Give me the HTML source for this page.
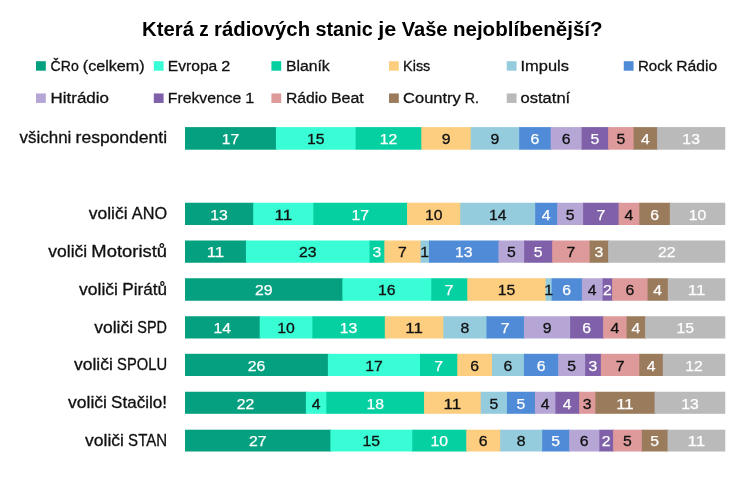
<!DOCTYPE html>
<html lang="cs"><head><meta charset="utf-8"><title>Která z rádiových stanic je Vaše nejoblíbenější?</title>
<style>html,body{margin:0;padding:0;background:#fff}body{width:744px;height:481px;overflow:hidden}svg{display:block}text{font-family:"Liberation Sans",sans-serif}.d{fill:#111;stroke:#111;stroke-width:.3px}.w{fill:#fff;stroke:#fff;stroke-width:.25px}</style></head><body>
<svg width="744" height="481" viewBox="0 0 744 481">
<rect width="744" height="481" fill="#fff"/>
<text y="35.55" font-size="20.7" font-weight="bold" fill="#000"><tspan x="142.00" textLength="51.92" lengthAdjust="spacingAndGlyphs">Která</tspan> <tspan x="199.30" textLength="9.44" lengthAdjust="spacingAndGlyphs">z</tspan> <tspan x="214.11" textLength="95.97" lengthAdjust="spacingAndGlyphs">rádiových</tspan> <tspan x="315.45" textLength="57.44" lengthAdjust="spacingAndGlyphs">stanic</tspan> <tspan x="378.27" textLength="18.02" lengthAdjust="spacingAndGlyphs">je</tspan> <tspan x="401.66" textLength="45.88" lengthAdjust="spacingAndGlyphs">Vaše</tspan> <tspan x="452.91" textLength="149.70" lengthAdjust="spacingAndGlyphs">nejoblíbenější?</tspan></text>
<rect x="36" y="61.20" width="9.8" height="9.5" fill="#05A07F"/>
<text y="70.70" font-size="15.45" class="d"><tspan x="50.60" textLength="28.17" lengthAdjust="spacingAndGlyphs">ČRo</tspan> <tspan x="82.79" textLength="61.84" lengthAdjust="spacingAndGlyphs">(celkem)</tspan></text>
<rect x="153.8" y="61.20" width="9.8" height="9.5" fill="#38FDD5"/>
<text y="70.70" font-size="15.45" class="d"><tspan x="167.80" textLength="49.48" lengthAdjust="spacingAndGlyphs">Evropa</tspan> <tspan x="221.30" textLength="9.02" lengthAdjust="spacingAndGlyphs">2</tspan></text>
<rect x="271.4" y="61.20" width="9.8" height="9.5" fill="#04D0A2"/>
<text y="70.70" font-size="15.45" class="d"><tspan x="285.90" textLength="43.81" lengthAdjust="spacingAndGlyphs">Blaník</tspan></text>
<rect x="389" y="61.20" width="9.8" height="9.5" fill="#FDCE80"/>
<text y="70.70" font-size="15.45" class="d"><tspan x="403.10" textLength="27.23" lengthAdjust="spacingAndGlyphs">Kiss</tspan></text>
<rect x="506.75" y="61.20" width="9.8" height="9.5" fill="#94CCDE"/>
<text y="70.70" font-size="15.45" class="d"><tspan x="520.55" textLength="48.42" lengthAdjust="spacingAndGlyphs">Impuls</tspan></text>
<rect x="623.75" y="61.20" width="9.8" height="9.5" fill="#4F8BD6"/>
<text y="70.70" font-size="15.45" class="d"><tspan x="637.95" textLength="34.31" lengthAdjust="spacingAndGlyphs">Rock</tspan> <tspan x="676.28" textLength="41.00" lengthAdjust="spacingAndGlyphs">Rádio</tspan></text>
<rect x="36" y="93.45" width="9.8" height="9.5" fill="#B5A6D6"/>
<text y="102.95" font-size="15.45" class="d"><tspan x="50.60" textLength="58.33" lengthAdjust="spacingAndGlyphs">Hitrádio</tspan></text>
<rect x="153.8" y="93.45" width="9.8" height="9.5" fill="#7F60A9"/>
<text y="102.95" font-size="15.45" class="d"><tspan x="167.80" textLength="73.55" lengthAdjust="spacingAndGlyphs">Frekvence</tspan> <tspan x="245.36" textLength="9.02" lengthAdjust="spacingAndGlyphs">1</tspan></text>
<rect x="271.4" y="93.45" width="9.8" height="9.5" fill="#DE9A9A"/>
<text y="102.95" font-size="15.45" class="d"><tspan x="285.90" textLength="41.00" lengthAdjust="spacingAndGlyphs">Rádio</tspan> <tspan x="330.92" textLength="32.88" lengthAdjust="spacingAndGlyphs">Beat</tspan></text>
<rect x="389" y="93.45" width="9.8" height="9.5" fill="#9A7C5D"/>
<text y="102.95" font-size="15.45" class="d"><tspan x="403.10" textLength="57.72" lengthAdjust="spacingAndGlyphs">Country</tspan> <tspan x="464.83" textLength="14.25" lengthAdjust="spacingAndGlyphs">R.</tspan></text>
<rect x="506.75" y="93.45" width="9.8" height="9.5" fill="#BABABA"/>
<text y="102.95" font-size="15.45" class="d"><tspan x="520.55" textLength="49.64" lengthAdjust="spacingAndGlyphs">ostatní</tspan></text>
<text y="143.10" font-size="16.3" class="d"><tspan x="19.61" textLength="51.73" lengthAdjust="spacingAndGlyphs">všichni</tspan> <tspan x="75.57" textLength="91.48" lengthAdjust="spacingAndGlyphs">respondenti</tspan></text>
<rect x="185.0" y="127.10" width="91.92" height="22.6" fill="#05A07F"/>
<rect x="275.92" y="127.10" width="80.67" height="22.6" fill="#38FDD5"/>
<rect x="355.59" y="127.10" width="66.69" height="22.6" fill="#04D0A2"/>
<rect x="421.28" y="127.10" width="50.46" height="22.6" fill="#FDCE80"/>
<rect x="470.74" y="127.10" width="49.45" height="22.6" fill="#94CCDE"/>
<rect x="519.19" y="127.10" width="32.47" height="22.6" fill="#4F8BD6"/>
<rect x="550.66" y="127.10" width="31.97" height="22.6" fill="#B5A6D6"/>
<rect x="581.63" y="127.10" width="27.48" height="22.6" fill="#7F60A9"/>
<rect x="608.11" y="127.10" width="26.47" height="22.6" fill="#DE9A9A"/>
<rect x="633.58" y="127.10" width="24.48" height="22.6" fill="#9A7C5D"/>
<rect x="657.06" y="127.10" width="68.19" height="22.6" fill="#BABABA"/>
<text x="230.46" y="143.97" text-anchor="middle" font-size="14.80" class="w" textLength="17.53" lengthAdjust="spacingAndGlyphs">17</text>
<text x="315.75" y="143.97" text-anchor="middle" font-size="14.80" class="d" textLength="17.53" lengthAdjust="spacingAndGlyphs">15</text>
<text x="388.43" y="143.97" text-anchor="middle" font-size="14.80" class="w" textLength="17.53" lengthAdjust="spacingAndGlyphs">12</text>
<text x="446.01" y="143.97" text-anchor="middle" font-size="14.80" class="d" textLength="8.77" lengthAdjust="spacingAndGlyphs">9</text>
<text x="494.97" y="143.97" text-anchor="middle" font-size="14.80" class="d" textLength="8.77" lengthAdjust="spacingAndGlyphs">9</text>
<text x="534.92" y="143.97" text-anchor="middle" font-size="14.80" class="w" textLength="8.77" lengthAdjust="spacingAndGlyphs">6</text>
<text x="566.14" y="143.97" text-anchor="middle" font-size="14.80" class="d" textLength="8.77" lengthAdjust="spacingAndGlyphs">6</text>
<text x="594.87" y="143.97" text-anchor="middle" font-size="14.80" class="w" textLength="8.77" lengthAdjust="spacingAndGlyphs">5</text>
<text x="620.85" y="143.97" text-anchor="middle" font-size="14.80" class="d" textLength="8.77" lengthAdjust="spacingAndGlyphs">5</text>
<text x="645.32" y="143.97" text-anchor="middle" font-size="14.80" class="w" textLength="8.77" lengthAdjust="spacingAndGlyphs">4</text>
<text x="691.15" y="143.97" text-anchor="middle" font-size="14.80" class="w" textLength="17.53" lengthAdjust="spacingAndGlyphs">13</text>
<text y="219.10" font-size="16.3" class="d"><tspan x="88.78" textLength="38.84" lengthAdjust="spacingAndGlyphs">voliči</tspan> <tspan x="131.85" textLength="35.20" lengthAdjust="spacingAndGlyphs">ANO</tspan></text>
<rect x="185.0" y="202.75" width="69.19" height="22.25" fill="#05A07F"/>
<rect x="253.19" y="202.75" width="61.19" height="22.25" fill="#38FDD5"/>
<rect x="313.38" y="202.75" width="94.66" height="22.25" fill="#04D0A2"/>
<rect x="407.04" y="202.75" width="54.21" height="22.25" fill="#FDCE80"/>
<rect x="460.25" y="202.75" width="75.93" height="22.25" fill="#94CCDE"/>
<rect x="535.18" y="202.75" width="22.98" height="22.25" fill="#4F8BD6"/>
<rect x="557.16" y="202.75" width="26.97" height="22.25" fill="#B5A6D6"/>
<rect x="583.13" y="202.75" width="36.47" height="22.25" fill="#7F60A9"/>
<rect x="618.6" y="202.75" width="21.73" height="22.25" fill="#DE9A9A"/>
<rect x="639.33" y="202.75" width="31.47" height="22.25" fill="#9A7C5D"/>
<rect x="669.8" y="202.75" width="55.45" height="22.25" fill="#BABABA"/>
<text x="219.09" y="219.59" text-anchor="middle" font-size="14.80" class="w" textLength="17.53" lengthAdjust="spacingAndGlyphs">13</text>
<text x="283.28" y="219.59" text-anchor="middle" font-size="14.80" class="d" textLength="17.53" lengthAdjust="spacingAndGlyphs">11</text>
<text x="360.21" y="219.59" text-anchor="middle" font-size="14.80" class="w" textLength="17.53" lengthAdjust="spacingAndGlyphs">17</text>
<text x="433.64" y="219.59" text-anchor="middle" font-size="14.80" class="d" textLength="17.53" lengthAdjust="spacingAndGlyphs">10</text>
<text x="497.71" y="219.59" text-anchor="middle" font-size="14.80" class="d" textLength="17.53" lengthAdjust="spacingAndGlyphs">14</text>
<text x="546.17" y="219.59" text-anchor="middle" font-size="14.80" class="w" textLength="8.77" lengthAdjust="spacingAndGlyphs">4</text>
<text x="570.14" y="219.59" text-anchor="middle" font-size="14.80" class="d" textLength="8.77" lengthAdjust="spacingAndGlyphs">5</text>
<text x="600.87" y="219.59" text-anchor="middle" font-size="14.80" class="w" textLength="8.77" lengthAdjust="spacingAndGlyphs">7</text>
<text x="628.97" y="219.59" text-anchor="middle" font-size="14.80" class="d" textLength="8.77" lengthAdjust="spacingAndGlyphs">4</text>
<text x="654.57" y="219.59" text-anchor="middle" font-size="14.80" class="w" textLength="8.77" lengthAdjust="spacingAndGlyphs">6</text>
<text x="697.52" y="219.59" text-anchor="middle" font-size="14.80" class="w" textLength="17.53" lengthAdjust="spacingAndGlyphs">10</text>
<text y="256.50" font-size="16.3" class="d"><tspan x="48.32" textLength="38.84" lengthAdjust="spacingAndGlyphs">voliči</tspan> <tspan x="91.38" textLength="75.67" lengthAdjust="spacingAndGlyphs">Motoristů</tspan></text>
<rect x="185.0" y="240.50" width="61.94" height="22.25" fill="#05A07F"/>
<rect x="245.94" y="240.50" width="124.64" height="22.25" fill="#38FDD5"/>
<rect x="369.58" y="240.50" width="15.74" height="22.25" fill="#04D0A2"/>
<rect x="384.32" y="240.50" width="37.21" height="22.25" fill="#FDCE80"/>
<rect x="420.53" y="240.50" width="9.49" height="22.25" fill="#94CCDE"/>
<rect x="429.02" y="240.50" width="70.44" height="22.25" fill="#4F8BD6"/>
<rect x="498.46" y="240.50" width="26.73" height="22.25" fill="#B5A6D6"/>
<rect x="524.19" y="240.50" width="28.97" height="22.25" fill="#7F60A9"/>
<rect x="552.16" y="240.50" width="38.47" height="22.25" fill="#DE9A9A"/>
<rect x="589.63" y="240.50" width="19.48" height="22.25" fill="#9A7C5D"/>
<rect x="608.11" y="240.50" width="117.14" height="22.25" fill="#BABABA"/>
<text x="215.47" y="257.40" text-anchor="middle" font-size="14.80" class="w" textLength="17.53" lengthAdjust="spacingAndGlyphs">11</text>
<text x="307.76" y="257.40" text-anchor="middle" font-size="14.80" class="d" textLength="17.53" lengthAdjust="spacingAndGlyphs">23</text>
<text x="376.95" y="257.40" text-anchor="middle" font-size="14.80" class="w" textLength="8.77" lengthAdjust="spacingAndGlyphs">3</text>
<text x="402.42" y="257.40" text-anchor="middle" font-size="14.80" class="d" textLength="8.77" lengthAdjust="spacingAndGlyphs">7</text>
<text x="424.77" y="257.40" text-anchor="middle" font-size="14.80" class="d" textLength="8.77" lengthAdjust="spacingAndGlyphs">1</text>
<text x="463.74" y="257.40" text-anchor="middle" font-size="14.80" class="w" textLength="17.53" lengthAdjust="spacingAndGlyphs">13</text>
<text x="511.33" y="257.40" text-anchor="middle" font-size="14.80" class="d" textLength="8.77" lengthAdjust="spacingAndGlyphs">5</text>
<text x="538.17" y="257.40" text-anchor="middle" font-size="14.80" class="w" textLength="8.77" lengthAdjust="spacingAndGlyphs">5</text>
<text x="570.89" y="257.40" text-anchor="middle" font-size="14.80" class="d" textLength="8.77" lengthAdjust="spacingAndGlyphs">7</text>
<text x="598.87" y="257.40" text-anchor="middle" font-size="14.80" class="w" textLength="8.77" lengthAdjust="spacingAndGlyphs">3</text>
<text x="666.68" y="257.40" text-anchor="middle" font-size="14.80" class="w" textLength="17.53" lengthAdjust="spacingAndGlyphs">22</text>
<text y="294.70" font-size="16.3" class="d"><tspan x="79.11" textLength="38.84" lengthAdjust="spacingAndGlyphs">voliči</tspan> <tspan x="122.18" textLength="44.88" lengthAdjust="spacingAndGlyphs">Pirátů</tspan></text>
<rect x="185.0" y="278.25" width="158.35" height="22.5" fill="#05A07F"/>
<rect x="342.35" y="278.25" width="89.92" height="22.5" fill="#38FDD5"/>
<rect x="431.27" y="278.25" width="36.97" height="22.5" fill="#04D0A2"/>
<rect x="467.24" y="278.25" width="79.43" height="22.5" fill="#FDCE80"/>
<rect x="545.67" y="278.25" width="6.99" height="22.5" fill="#94CCDE"/>
<rect x="551.66" y="278.25" width="31.22" height="22.5" fill="#4F8BD6"/>
<rect x="581.88" y="278.25" width="21.73" height="22.5" fill="#B5A6D6"/>
<rect x="602.61" y="278.25" width="10.49" height="22.5" fill="#7F60A9"/>
<rect x="612.1" y="278.25" width="36.47" height="22.5" fill="#DE9A9A"/>
<rect x="647.57" y="278.25" width="21.23" height="22.5" fill="#9A7C5D"/>
<rect x="667.8" y="278.25" width="57.45" height="22.5" fill="#BABABA"/>
<text x="263.68" y="295.21" text-anchor="middle" font-size="14.80" class="w" textLength="17.53" lengthAdjust="spacingAndGlyphs">29</text>
<text x="386.81" y="295.21" text-anchor="middle" font-size="14.80" class="d" textLength="17.53" lengthAdjust="spacingAndGlyphs">16</text>
<text x="449.25" y="295.21" text-anchor="middle" font-size="14.80" class="w" textLength="8.77" lengthAdjust="spacingAndGlyphs">7</text>
<text x="506.45" y="295.21" text-anchor="middle" font-size="14.80" class="d" textLength="17.53" lengthAdjust="spacingAndGlyphs">15</text>
<text x="548.66" y="295.21" text-anchor="middle" font-size="14.80" class="d" textLength="8.77" lengthAdjust="spacingAndGlyphs">1</text>
<text x="566.77" y="295.21" text-anchor="middle" font-size="14.80" class="w" textLength="8.77" lengthAdjust="spacingAndGlyphs">6</text>
<text x="592.25" y="295.21" text-anchor="middle" font-size="14.80" class="d" textLength="8.77" lengthAdjust="spacingAndGlyphs">4</text>
<text x="607.36" y="295.21" text-anchor="middle" font-size="14.80" class="w" textLength="8.77" lengthAdjust="spacingAndGlyphs">2</text>
<text x="629.84" y="295.21" text-anchor="middle" font-size="14.80" class="d" textLength="8.77" lengthAdjust="spacingAndGlyphs">6</text>
<text x="657.68" y="295.21" text-anchor="middle" font-size="14.80" class="w" textLength="8.77" lengthAdjust="spacingAndGlyphs">4</text>
<text x="696.52" y="295.21" text-anchor="middle" font-size="14.80" class="w" textLength="17.53" lengthAdjust="spacingAndGlyphs">11</text>
<text y="332.50" font-size="16.3" class="d"><tspan x="94.28" textLength="38.84" lengthAdjust="spacingAndGlyphs">voliči</tspan> <tspan x="137.35" textLength="29.70" lengthAdjust="spacingAndGlyphs">SPD</tspan></text>
<rect x="185.0" y="316.25" width="75.68" height="22.25" fill="#05A07F"/>
<rect x="259.68" y="316.25" width="53.70" height="22.25" fill="#38FDD5"/>
<rect x="312.38" y="316.25" width="73.43" height="22.25" fill="#04D0A2"/>
<rect x="384.81" y="316.25" width="59.45" height="22.25" fill="#FDCE80"/>
<rect x="443.26" y="316.25" width="44.21" height="22.25" fill="#94CCDE"/>
<rect x="486.47" y="316.25" width="38.47" height="22.25" fill="#4F8BD6"/>
<rect x="523.94" y="316.25" width="47.20" height="22.25" fill="#B5A6D6"/>
<rect x="570.14" y="316.25" width="33.97" height="22.25" fill="#7F60A9"/>
<rect x="603.11" y="316.25" width="24.48" height="22.25" fill="#DE9A9A"/>
<rect x="626.59" y="316.25" width="19.48" height="22.25" fill="#9A7C5D"/>
<rect x="645.07" y="316.25" width="80.18" height="22.25" fill="#BABABA"/>
<text x="222.34" y="333.02" text-anchor="middle" font-size="14.80" class="w" textLength="17.53" lengthAdjust="spacingAndGlyphs">14</text>
<text x="286.03" y="333.02" text-anchor="middle" font-size="14.80" class="d" textLength="17.53" lengthAdjust="spacingAndGlyphs">10</text>
<text x="348.60" y="333.02" text-anchor="middle" font-size="14.80" class="w" textLength="17.53" lengthAdjust="spacingAndGlyphs">13</text>
<text x="414.03" y="333.02" text-anchor="middle" font-size="14.80" class="d" textLength="17.53" lengthAdjust="spacingAndGlyphs">11</text>
<text x="464.87" y="333.02" text-anchor="middle" font-size="14.80" class="d" textLength="8.77" lengthAdjust="spacingAndGlyphs">8</text>
<text x="505.21" y="333.02" text-anchor="middle" font-size="14.80" class="w" textLength="8.77" lengthAdjust="spacingAndGlyphs">7</text>
<text x="547.04" y="333.02" text-anchor="middle" font-size="14.80" class="d" textLength="8.77" lengthAdjust="spacingAndGlyphs">9</text>
<text x="586.62" y="333.02" text-anchor="middle" font-size="14.80" class="w" textLength="8.77" lengthAdjust="spacingAndGlyphs">6</text>
<text x="614.85" y="333.02" text-anchor="middle" font-size="14.80" class="d" textLength="8.77" lengthAdjust="spacingAndGlyphs">4</text>
<text x="635.83" y="333.02" text-anchor="middle" font-size="14.80" class="w" textLength="8.77" lengthAdjust="spacingAndGlyphs">4</text>
<text x="685.16" y="333.02" text-anchor="middle" font-size="14.80" class="w" textLength="17.53" lengthAdjust="spacingAndGlyphs">15</text>
<text y="370.40" font-size="16.3" class="d"><tspan x="73.99" textLength="38.84" lengthAdjust="spacingAndGlyphs">voliči</tspan> <tspan x="117.05" textLength="50.00" lengthAdjust="spacingAndGlyphs">SPOLU</tspan></text>
<rect x="185.0" y="353.80" width="143.87" height="22.2" fill="#05A07F"/>
<rect x="327.87" y="353.80" width="93.16" height="22.2" fill="#38FDD5"/>
<rect x="420.03" y="353.80" width="38.22" height="22.2" fill="#04D0A2"/>
<rect x="457.25" y="353.80" width="35.72" height="22.2" fill="#FDCE80"/>
<rect x="491.97" y="353.80" width="32.97" height="22.2" fill="#94CCDE"/>
<rect x="523.94" y="353.80" width="35.21" height="22.2" fill="#4F8BD6"/>
<rect x="558.15" y="353.80" width="27.98" height="22.2" fill="#B5A6D6"/>
<rect x="585.13" y="353.80" width="16.73" height="22.2" fill="#7F60A9"/>
<rect x="600.86" y="353.80" width="39.47" height="22.2" fill="#DE9A9A"/>
<rect x="639.33" y="353.80" width="24.48" height="22.2" fill="#9A7C5D"/>
<rect x="662.81" y="353.80" width="62.44" height="22.2" fill="#BABABA"/>
<text x="256.44" y="370.83" text-anchor="middle" font-size="14.80" class="w" textLength="17.53" lengthAdjust="spacingAndGlyphs">26</text>
<text x="373.95" y="370.83" text-anchor="middle" font-size="14.80" class="d" textLength="17.53" lengthAdjust="spacingAndGlyphs">17</text>
<text x="438.64" y="370.83" text-anchor="middle" font-size="14.80" class="w" textLength="8.77" lengthAdjust="spacingAndGlyphs">7</text>
<text x="474.61" y="370.83" text-anchor="middle" font-size="14.80" class="d" textLength="8.77" lengthAdjust="spacingAndGlyphs">6</text>
<text x="507.96" y="370.83" text-anchor="middle" font-size="14.80" class="d" textLength="8.77" lengthAdjust="spacingAndGlyphs">6</text>
<text x="541.05" y="370.83" text-anchor="middle" font-size="14.80" class="w" textLength="8.77" lengthAdjust="spacingAndGlyphs">6</text>
<text x="571.64" y="370.83" text-anchor="middle" font-size="14.80" class="d" textLength="8.77" lengthAdjust="spacingAndGlyphs">5</text>
<text x="593.00" y="370.83" text-anchor="middle" font-size="14.80" class="w" textLength="8.77" lengthAdjust="spacingAndGlyphs">3</text>
<text x="620.10" y="370.83" text-anchor="middle" font-size="14.80" class="d" textLength="8.77" lengthAdjust="spacingAndGlyphs">7</text>
<text x="651.07" y="370.83" text-anchor="middle" font-size="14.80" class="w" textLength="8.77" lengthAdjust="spacingAndGlyphs">4</text>
<text x="694.03" y="370.83" text-anchor="middle" font-size="14.80" class="w" textLength="17.53" lengthAdjust="spacingAndGlyphs">12</text>
<text y="408.30" font-size="16.3" class="d"><tspan x="68.08" textLength="38.84" lengthAdjust="spacingAndGlyphs">voliči</tspan> <tspan x="111.14" textLength="55.91" lengthAdjust="spacingAndGlyphs">Stačilo!</tspan></text>
<rect x="185.0" y="391.75" width="121.89" height="22.05" fill="#05A07F"/>
<rect x="305.89" y="391.75" width="21.48" height="22.05" fill="#38FDD5"/>
<rect x="326.37" y="391.75" width="98.66" height="22.05" fill="#04D0A2"/>
<rect x="424.03" y="391.75" width="57.70" height="22.05" fill="#FDCE80"/>
<rect x="480.73" y="391.75" width="27.22" height="22.05" fill="#94CCDE"/>
<rect x="506.95" y="391.75" width="28.98" height="22.05" fill="#4F8BD6"/>
<rect x="534.93" y="391.75" width="21.48" height="22.05" fill="#B5A6D6"/>
<rect x="555.41" y="391.75" width="24.73" height="22.05" fill="#7F60A9"/>
<rect x="579.14" y="391.75" width="17.23" height="22.05" fill="#DE9A9A"/>
<rect x="595.37" y="391.75" width="60.20" height="22.05" fill="#9A7C5D"/>
<rect x="654.57" y="391.75" width="70.68" height="22.05" fill="#BABABA"/>
<text x="245.44" y="408.64" text-anchor="middle" font-size="14.80" class="w" textLength="17.53" lengthAdjust="spacingAndGlyphs">22</text>
<text x="316.13" y="408.64" text-anchor="middle" font-size="14.80" class="d" textLength="8.77" lengthAdjust="spacingAndGlyphs">4</text>
<text x="375.20" y="408.64" text-anchor="middle" font-size="14.80" class="w" textLength="17.53" lengthAdjust="spacingAndGlyphs">18</text>
<text x="452.38" y="408.64" text-anchor="middle" font-size="14.80" class="d" textLength="17.53" lengthAdjust="spacingAndGlyphs">11</text>
<text x="493.84" y="408.64" text-anchor="middle" font-size="14.80" class="d" textLength="8.77" lengthAdjust="spacingAndGlyphs">5</text>
<text x="520.94" y="408.64" text-anchor="middle" font-size="14.80" class="w" textLength="8.77" lengthAdjust="spacingAndGlyphs">5</text>
<text x="545.17" y="408.64" text-anchor="middle" font-size="14.80" class="d" textLength="8.77" lengthAdjust="spacingAndGlyphs">4</text>
<text x="567.27" y="408.64" text-anchor="middle" font-size="14.80" class="w" textLength="8.77" lengthAdjust="spacingAndGlyphs">4</text>
<text x="587.25" y="408.64" text-anchor="middle" font-size="14.80" class="d" textLength="8.77" lengthAdjust="spacingAndGlyphs">3</text>
<text x="624.97" y="408.64" text-anchor="middle" font-size="14.80" class="w" textLength="17.53" lengthAdjust="spacingAndGlyphs">11</text>
<text x="689.91" y="408.64" text-anchor="middle" font-size="14.80" class="w" textLength="17.53" lengthAdjust="spacingAndGlyphs">13</text>
<text y="445.60" font-size="16.3" class="d"><tspan x="85.05" textLength="38.84" lengthAdjust="spacingAndGlyphs">voliči</tspan> <tspan x="128.11" textLength="38.94" lengthAdjust="spacingAndGlyphs">STAN</tspan></text>
<rect x="185.0" y="429.70" width="146.37" height="21.8" fill="#05A07F"/>
<rect x="330.37" y="429.70" width="82.92" height="21.8" fill="#38FDD5"/>
<rect x="412.29" y="429.70" width="54.95" height="21.8" fill="#04D0A2"/>
<rect x="466.24" y="429.70" width="34.97" height="21.8" fill="#FDCE80"/>
<rect x="500.21" y="429.70" width="42.96" height="21.8" fill="#94CCDE"/>
<rect x="542.17" y="429.70" width="27.97" height="21.8" fill="#4F8BD6"/>
<rect x="569.14" y="429.70" width="31.23" height="21.8" fill="#B5A6D6"/>
<rect x="599.37" y="429.70" width="14.73" height="21.8" fill="#7F60A9"/>
<rect x="613.1" y="429.70" width="29.73" height="21.8" fill="#DE9A9A"/>
<rect x="641.83" y="429.70" width="26.72" height="21.8" fill="#9A7C5D"/>
<rect x="667.55" y="429.70" width="57.70" height="21.8" fill="#BABABA"/>
<text x="257.69" y="446.45" text-anchor="middle" font-size="14.80" class="w" textLength="17.53" lengthAdjust="spacingAndGlyphs">27</text>
<text x="371.33" y="446.45" text-anchor="middle" font-size="14.80" class="d" textLength="17.53" lengthAdjust="spacingAndGlyphs">15</text>
<text x="439.26" y="446.45" text-anchor="middle" font-size="14.80" class="w" textLength="17.53" lengthAdjust="spacingAndGlyphs">10</text>
<text x="483.23" y="446.45" text-anchor="middle" font-size="14.80" class="d" textLength="8.77" lengthAdjust="spacingAndGlyphs">6</text>
<text x="521.19" y="446.45" text-anchor="middle" font-size="14.80" class="d" textLength="8.77" lengthAdjust="spacingAndGlyphs">8</text>
<text x="555.65" y="446.45" text-anchor="middle" font-size="14.80" class="w" textLength="8.77" lengthAdjust="spacingAndGlyphs">5</text>
<text x="584.25" y="446.45" text-anchor="middle" font-size="14.80" class="d" textLength="8.77" lengthAdjust="spacingAndGlyphs">6</text>
<text x="606.24" y="446.45" text-anchor="middle" font-size="14.80" class="w" textLength="8.77" lengthAdjust="spacingAndGlyphs">2</text>
<text x="627.47" y="446.45" text-anchor="middle" font-size="14.80" class="d" textLength="8.77" lengthAdjust="spacingAndGlyphs">5</text>
<text x="654.69" y="446.45" text-anchor="middle" font-size="14.80" class="w" textLength="8.77" lengthAdjust="spacingAndGlyphs">5</text>
<text x="696.40" y="446.45" text-anchor="middle" font-size="14.80" class="w" textLength="17.53" lengthAdjust="spacingAndGlyphs">11</text>
</svg></body></html>
